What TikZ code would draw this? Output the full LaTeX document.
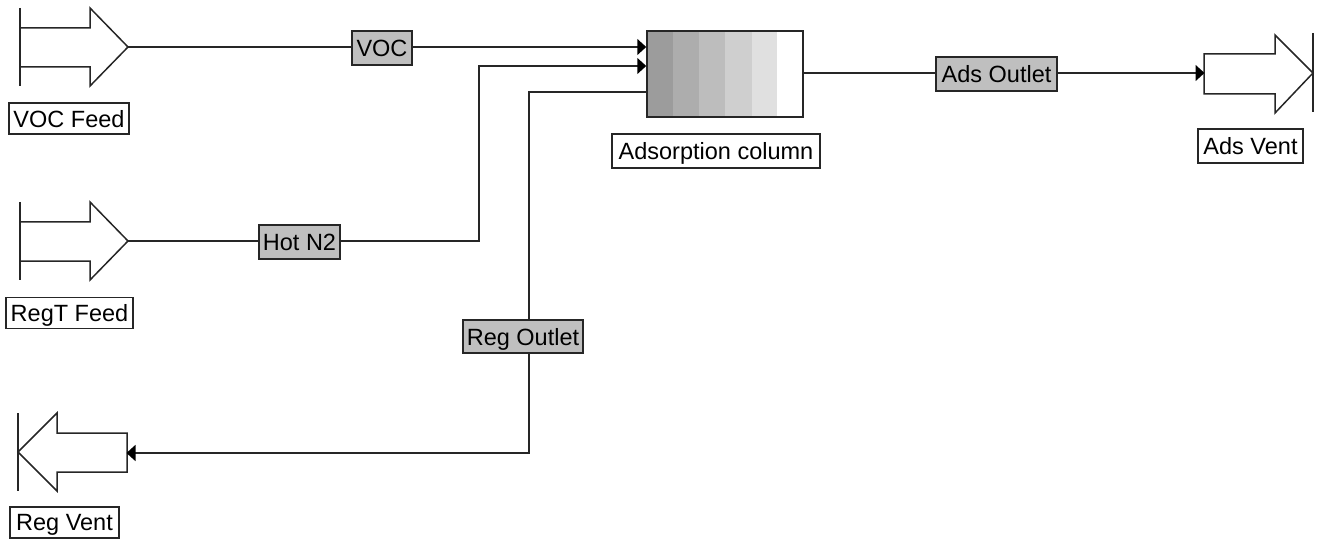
\documentclass[tikz,border=0pt]{standalone}
\usepackage{fontspec}
\setmainfont{Liberation Sans}
\usetikzlibrary{arrows.meta}
\definecolor{ink}{HTML}{262626}
\tikzset{
  wire/.style={draw=ink,line width=1.5pt},
  flow/.style={wire,-{Triangle[length=9pt,width=16pt,color=black]}},
  outline/.style={draw=ink,line width=1.5pt,line join=miter},
  caption/.style={draw=ink,line width=1.3pt,fill=white,inner sep=0pt,font=\fontsize{23.5}{25}\selectfont,text depth=0pt,align=center},
  stream/.style={caption,fill=black!25},
  port/.style={inner sep=0pt,outer sep=0pt,minimum width=108pt,minimum height=78pt},
  band/.style={fill=#1,draw=none},
}
\begin{document}
\begin{tikzpicture}[x=1pt,y=-1pt]
\useasboundingbox (0,0) rectangle (1317,540);
% feed arrows
\node[port] (vocfeed) at (74,47) {};
\node[port] (regfeed) at (74,241) {};
\node[port] (regvent) at (72.5,452) {};
\node[port] (adsvent) at (1258.5,73) {};
\foreach \n in {vocfeed,regfeed}{
  \draw[outline,shift={(\n.center)}] (-54,-39) -- (-54,39);
  \draw[outline,shift={(\n.center)}] (-54,-19) -- (16,-19) -- (16,-39) -- (54,0) -- (16,39) -- (16,20) -- (-54,20);
}
\draw[outline,shift={(regvent.center)}] (-54.5,-39) -- (-54.5,39);
\draw[outline,shift={(regvent.center)}] (-54.5,0) -- (-15.5,-39) -- (-15.5,-19) -- (54.5,-19) -- (54.5,20) -- (-15.5,20) -- (-15.5,39) -- cycle;
\draw[outline,shift={(adsvent.center)}] (54.5,-40) -- (54.5,39);
\draw[outline,shift={(adsvent.center)}] (54.5,0) -- (16.5,-38) -- (16.5,-19) -- (-54.5,-19) -- (-54.5,21) -- (16.5,21) -- (16.5,40) -- cycle;
% column
\foreach \a/\b/\c in {647/673/9C9C9C,673/699/ADADAD,699/725/BDBDBD,725/752/CFCFCF,752/777/E0E0E0,777/803/FFFFFF}{
  \definecolor{bandc}{HTML}{\c}
  \fill[band=bandc] (\a,31) rectangle (\b,117);
}
\node[draw=ink,line width=1.5pt,inner sep=0pt,minimum width=156pt,minimum height=86pt] (column) at (725,74) {};
\coordinate (colA) at (column.west |- 0,47);
\coordinate (colB) at (column.west |- 0,66);
\coordinate (colC) at (column.west |- 0,92);
% captions
\node[caption,minimum width=120pt,minimum height=31pt] (capvoc) at (69,118.5) {VOC Feed};
\node[caption,minimum width=127pt,minimum height=31pt] (capreg) at (69.5,313) {RegT Feed};
\node[caption,minimum width=109pt,minimum height=31pt] (capvent) at (64.5,522.5) {Reg Vent};
\node[caption,minimum width=208pt,minimum height=34pt] (capcol) at (716,151) {Adsorption column};
\node[caption,minimum width=105pt,minimum height=34pt] (capads) at (1250.5,146) {Ads Vent};
% streams
\node[stream,minimum width=60pt,minimum height=34pt] (svoc) at (382,48) {VOC};
\node[stream,minimum width=81pt,minimum height=34pt] (shot) at (299.5,242) {Hot N2};
\node[stream,minimum width=120pt,minimum height=33pt] (sreg) at (523,336.5) {Reg Outlet};
\node[stream,minimum width=121pt,minimum height=34pt] (sads) at (996.5,74) {Ads Outlet};
\draw[wire] (vocfeed.east) -- (svoc.west |- vocfeed.east);
\draw[wire] (regfeed.east) -- (shot.west |- regfeed.east);
\draw[wire] (column.east |- 0,73) -- (sads.west |- 0,73);
\draw[flow] (svoc.east |- colA) -- (colA);
\draw[flow] (shot.east |- regfeed.east) -- (479,241) -- (479,66) -- (colB);
\draw[wire] (colC) -- (529,92) -- (529,320);
\draw[flow] (529,353) -- (529,453) -- (regvent.east |- 0,453);
\draw[flow] (sads.east |- 0,73) -- (adsvent.west |- 0,73);
\end{tikzpicture}
\end{document}
